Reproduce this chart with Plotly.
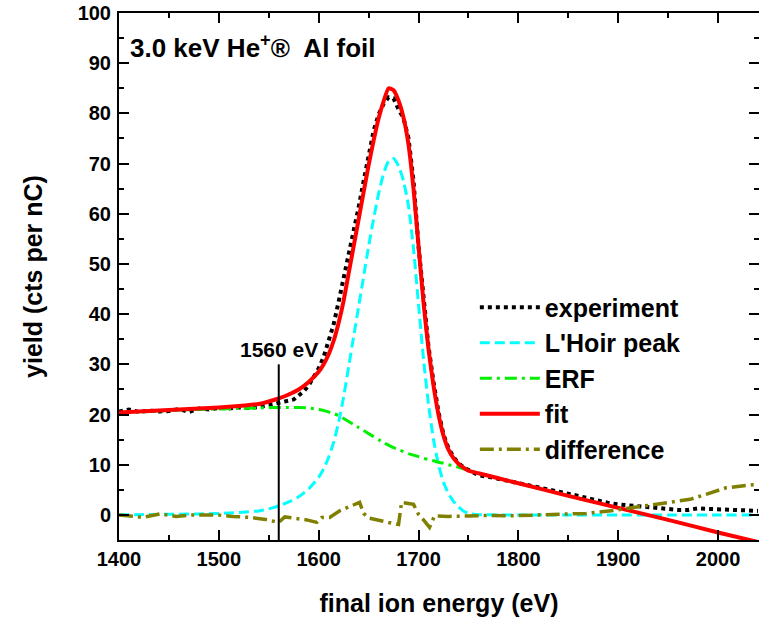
import plotly.graph_objects as go

# ---------------- data ----------------
E_MODEL = [1400, 1420, 1440, 1460, 1480, 1500, 1520, 1540, 1550, 1560, 1570, 1580, 1590, 1600,
           1605, 1610, 1615, 1620, 1625, 1630, 1635, 1640, 1645, 1650, 1655, 1660, 1665, 1670,
           1675, 1680, 1685, 1690, 1695, 1700, 1705, 1710, 1715, 1720, 1725, 1730, 1735, 1740,
           1745, 1750, 1760, 1780, 1800, 1850, 1900, 1950, 2000, 2040]

LHOIR = [0.0, 0.05, 0.1, 0.15, 0.2, 0.3, 0.5, 0.8, 1.2, 1.8, 2.6, 3.6, 5.2, 7.5,
         9.2, 11.5, 14.5, 18.5, 23.5, 29.5, 35.5, 41.5, 47.5, 53.5, 59.0, 64.0, 68.0, 70.5,
         71.0, 69.5, 66.5, 61.5, 53.0, 42.0, 31.0, 22.0, 15.0, 10.0, 6.5, 4.2, 2.7, 1.6,
         0.8, 0.3, 0.05, 0.0, 0.0, 0.0, 0.0, 0.0, 0.0, 0.0]

ERF = [20.3, 20.5, 20.7, 20.9, 21.0, 21.1, 21.2, 21.3, 21.4, 21.4, 21.4, 21.4, 21.3, 21.0,
       20.8, 20.5, 20.2, 19.8, 19.2, 18.6, 18.0, 17.4, 16.8, 16.2, 15.6, 15.0, 14.4, 13.9,
       13.4, 13.0, 12.6, 12.2, 11.9, 11.6, 11.3, 11.0, 10.8, 10.5, 10.3, 10.0, 9.8, 9.5,
       9.2, 8.9, 8.3, 7.3, 6.3, 3.8, 1.4, -1.0, -3.5, -5.4]

FIT = [20.4, 20.6, 20.8, 21.0, 21.2, 21.4, 21.7, 22.1, 22.6, 23.2, 24.0, 25.0, 26.5, 28.5,
       30.0, 32.0, 34.7, 38.3, 42.7, 48.1, 53.5, 58.9, 64.3, 69.7, 74.6, 79.0, 82.4, 85.0,
       84.6, 82.5, 79.1, 73.7, 64.9, 53.6, 42.3, 33.0, 25.8, 20.0, 15.8, 13.0, 11.3, 10.2,
       9.4, 8.8, 8.3, 7.3, 6.3, 3.8, 1.4, -1.0, -3.5, -5.4]

E_EXP = list(range(1400, 1545, 10)) + list(range(1545, 1765, 5)) + list(range(1770, 2045, 10))
EXPERIMENT = [20.6, 21.0, 20.5, 20.8, 20.6, 20.7, 21.1, 20.5, 21.2, 21.0, 21.3, 21.2, 21.4, 21.3, 21.5,
              21.6, 21.9, 22.1, 22.3, 22.4, 22.6, 23.0, 23.8, 24.6, 25.8,
              27.6, 29.2, 31.5, 34.5, 38.0, 42.5, 47.0, 51.8, 56.5, 61.3,
              66.5, 71.5, 76.5, 79.8, 81.9, 83.2, 83.0, 80.8, 79.0, 75.0,
              66.5, 53.5, 42.5, 33.5, 26.5, 20.5, 16.0, 13.3, 11.5, 10.3,
              9.5, 8.9, 8.3, 7.9,
              7.6, 7.2, 6.8, 6.4, 6.0, 5.5, 5.1, 4.7, 4.3, 3.8, 3.3, 2.8, 2.4, 2.1,
              1.9, 1.7, 1.6, 1.4, 1.2, 1.0, 1.0, 1.3, 1.2, 1.1, 1.0, 0.9, 1.0, 0.8]

E_DIFF = [1400, 1410, 1424, 1441, 1457, 1474, 1497, 1514, 1531, 1547,
          1560, 1566, 1575, 1588, 1598, 1603, 1611, 1621, 1641, 1645,
          1650, 1660, 1670, 1680, 1683, 1695, 1700, 1705, 1711, 1716,
          1730, 1750, 1770, 1790, 1815, 1845, 1868, 1895, 1908, 1928,
          1948, 1972, 1988, 2008, 2035, 2040]
DIFFERENCE = [0.0, -0.2, -0.5, 0.2, -0.3, 0.0, 0.0, -0.3, -0.5, -0.9,
              -1.5, -0.4, -0.6, -1.0, -1.5, -0.5, -0.5, 0.8, 2.5, 0.3,
              -0.6, -1.1, -1.5, -1.9, 2.5, 2.1, 0.1, -1.0, -2.5, -0.2,
              -0.3, -0.2, -0.1, -0.2, 0.0, 0.1, 0.3, 0.9, 1.3, 1.8,
              2.5, 3.1, 4.1, 5.4, 6.0, 6.1]

SERIES_NAMES = ["experiment", "L'Hoir peak", "ERF", "fit", "difference"]
MARK_E = 1560
MARK_TOP = 30
X_RANGE = [1400, 2041]
Y_RANGE = [-5, 100]
TITLE = "3.0 keV He<sup>+</sup>®\u00a0 Al foil"

# ---------------- figure ----------------
FONT = "Liberation Sans, Arial, Helvetica, sans-serif"
fig = go.Figure()

fig.add_trace(go.Scatter(x=E_EXP, y=EXPERIMENT, name=SERIES_NAMES[0], mode="lines",
                         line=dict(color="black", width=4, dash="4px,4px")))
fig.add_trace(go.Scatter(x=E_MODEL, y=LHOIR, name=SERIES_NAMES[1], mode="lines",
                         line=dict(color="#00FFFF", width=3, dash="10px,5px", shape="spline", smoothing=0.5)))
fig.add_trace(go.Scatter(x=E_MODEL, y=ERF, name=SERIES_NAMES[2], mode="lines",
                         line=dict(color="#00F000", width=3, dash="12px,5px,3px,5px", shape="spline", smoothing=0.5)))
fig.add_trace(go.Scatter(x=E_MODEL, y=FIT, name=SERIES_NAMES[3], mode="lines",
                         line=dict(color="#FF0000", width=4, shape="spline", smoothing=0.5)))
fig.add_trace(go.Scatter(x=E_DIFF, y=DIFFERENCE, name=SERIES_NAMES[4], mode="lines",
                         line=dict(color="#808000", width=3.5, dash="14px,5px,3px,5px")))

fig.add_shape(type="line", xref="x", yref="y", x0=MARK_E, x1=MARK_E, y0=Y_RANGE[0], y1=MARK_TOP,
              line=dict(color="black", width=2))
fig.add_annotation(x=MARK_E, y=MARK_TOP, xref="x", yref="y", text=f"{MARK_E} eV", showarrow=False,
                   xanchor="center", yanchor="bottom", yshift=1,
                   font=dict(family=FONT, size=21, color="black", weight="bold"))
fig.add_annotation(x=0.014, y=0.937, xref="paper", yref="paper", text=TITLE, showarrow=False,
                   xanchor="left", yanchor="middle",
                   font=dict(family=FONT, size=26, color="black", weight="bold"))

axis_common = dict(showline=True, linecolor="black", linewidth=2, mirror="allticks",
                   ticks="inside", ticklen=10, tickwidth=2, tickcolor="black",
                   showgrid=False, zeroline=False, ticklabeloverflow="allow",
                   tickfont=dict(family=FONT, size=20, color="black", weight="bold"))

fig.update_xaxes(range=X_RANGE, dtick=100, tick0=1400,
                 minor=dict(dtick=50, ticks="inside", ticklen=5, tickwidth=2, tickcolor="black"),
                 title=dict(text="final ion energy (eV)", standoff=25,
                            font=dict(family=FONT, size=25, color="black", weight="bold")),
                 ticklabelstandoff=0, **axis_common)
fig.update_yaxes(range=Y_RANGE, dtick=10, tick0=0,
                 minor=dict(dtick=5, ticks="inside", ticklen=5, tickwidth=2, tickcolor="black"),
                 title=dict(text="yield (cts per nC)", standoff=28,
                            font=dict(family=FONT, size=25, color="black", weight="bold")),
                 ticklabelstandoff=2, **axis_common)

fig.update_layout(
    width=759, height=622,
    margin=dict(l=119, r=0, t=13, b=82, autoexpand=False),
    paper_bgcolor="white", plot_bgcolor="white",
    showlegend=True,
    legend=dict(x=0.556, y=0.485, xanchor="left", yanchor="top", bgcolor="rgba(0,0,0,0)",
                borderwidth=0, itemwidth=60, tracegroupgap=0,
                font=dict(family=FONT, size=25, color="black", weight="bold")),
)

# remove the browser's default 8px body margin so the figure sits at the page origin
fig.write_html("out.html", config={"displayModeBar": False},
               post_script="document.body.style.margin='0';")
